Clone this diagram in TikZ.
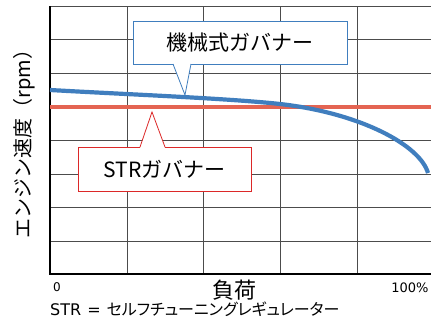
\documentclass[tikz,border=0pt]{standalone}
\usepackage{fontspec}
\setmainfont{Noto Sans CJK JP}
\newfontfamily\latinfont{DejaVu Sans}
\newfontfamily\propfont[RawFeature=+palt]{Noto Sans CJK JP}
\usetikzlibrary{calc}
\usetikzlibrary{positioning}
\definecolor{mechblue}{RGB}{64,126,190}
\definecolor{strred}{RGB}{228,100,82}
\definecolor{callred}{RGB}{220,40,40}
\tikzstyle{gridline} = [draw=black!70, line width=0.9pt]
\tikzstyle{callout} = [draw, fill=white, line width=0.8pt, inner sep=0pt]
\tikzstyle{lbl} = [inner sep=0pt]

\begin{document}
\begin{tikzpicture}[x=1pt, y=-1pt]
    \useasboundingbox [fill=white] (0,0) rectangle (431,325);

    % grid
    \foreach \gx in {127,203,280,357} {
        \draw [gridline] (\gx,6) -- (\gx,274);
    }
    \foreach \gy in {6,39.5,73,107,140.5,174,207.5,241} {
        \draw [gridline] (50,\gy) -- (431,\gy);
    }
    \coordinate (origin) at (50,274);
    \coordinate (topleft) at (50,6);
    \coordinate (botright) at (431,274);
    \draw [line width=1.4pt] (topleft) -- (origin) -- (botright);

    % governor curves
    \coordinate (strstart) at (50,107);
    \coordinate (strend) at (431,107);
    \draw [strred, line width=4.2pt] (strstart) -- (strend);
    \coordinate (mechstart) at (50,90);
    \coordinate (mechmid) at (280,104);
    \coordinate (mechend) at (428,173);
    \draw [mechblue, line width=4.2pt] (mechstart) .. controls (130,94.5) and (230,98.5) .. (mechmid)
        .. controls (360,113) and (420,145) .. (mechend);

    % callouts
    \node [callout, draw=mechblue, minimum width=214pt, minimum height=43pt,
           font=\fontsize{21}{21}\selectfont] (mech) at (240,42.5) {機械式ガバナー};
    \coordinate (mechA) at (173,64);
    \coordinate (mechB) at (191,64);
    \coordinate (mechtip) at (185,95);
    \fill [white] ($(mechA)+(0,-1)$) -- (mechtip) -- ($(mechB)+(0,-1)$) -- cycle;
    \draw [mechblue, line width=0.8pt] (mechA) -- (mechtip) -- (mechB);

    \node [callout, draw=callred, minimum width=173pt, minimum height=44pt,
           font=\fontsize{21}{21}\selectfont] (str) at (164.5,169) {STRガバナー};
    \coordinate (strA) at (140,147);
    \coordinate (strB) at (165,147);
    \coordinate (strtip) at (152,112);
    \fill [white] ($(strA)+(0,1)$) -- (strtip) -- ($(strB)+(0,1)$) -- cycle;
    \draw [callred, line width=0.8pt] (strA) -- (strtip) -- (strB);

    % axis labels
    \node [lbl, rotate=90, font=\fontsize{20}{20}\selectfont] (ylabel) at (24,139) {エンジン速度（rpm）};
    \node [lbl, font=\fontsize{22}{22}\selectfont] (xlabel) at (234,290) {負荷};
    \node [lbl, font=\latinfont\fontsize{12}{12}\selectfont] (zero) at (57,287) {0};
    \node [lbl, font=\latinfont\fontsize{13}{13}\selectfont] (full) at (410,288) {100\%};
    \node [lbl, anchor=west, font=\propfont\fontsize{16}{16}\selectfont] (note) at (50,309)
        {{\latinfont STR\hspace{6pt}=\hspace{6pt}}セルフチューニングレギュレーター};
\end{tikzpicture}
\end{document}
